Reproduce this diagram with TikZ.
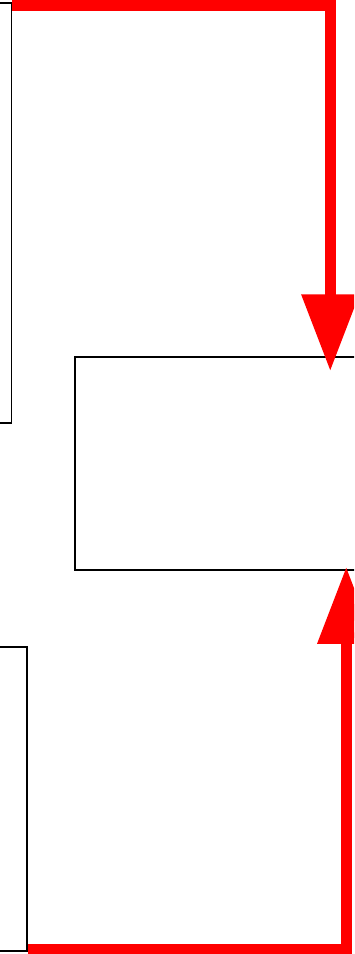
\documentclass[tikz,border=0pt]{standalone}
\usetikzlibrary{arrows.meta}
\begin{document}
\begin{tikzpicture}[
  x=1pt,y=-1pt,
  box/.style={draw, line width=1.5pt, inner sep=0pt},
  flow/.style={-{Triangle[length=77pt,width=55pt]}, draw=red, line width=11.5pt}
]
\useasboundingbox (0,0) rectangle (354,954);
\clip (0,0) rectangle (354,954);

\node[box, minimum width=71pt, minimum height=420pt] (top) at (-24,213) {};
\node[box, minimum width=345pt, minimum height=213pt] (mid) at (247.5,463.5) {};
\node[box, minimum width=87pt, minimum height=304pt] (bot) at (-16.5,799) {};

\draw[flow, shorten >=-15pt] ([yshift=-2.5pt]top.north east) -| ([xshift=256pt]mid.north west);
\draw[flow, shorten >=-4pt] ([yshift=2.5pt]bot.south east) -| ([xshift=272pt]mid.south west);
\end{tikzpicture}
\end{document}
